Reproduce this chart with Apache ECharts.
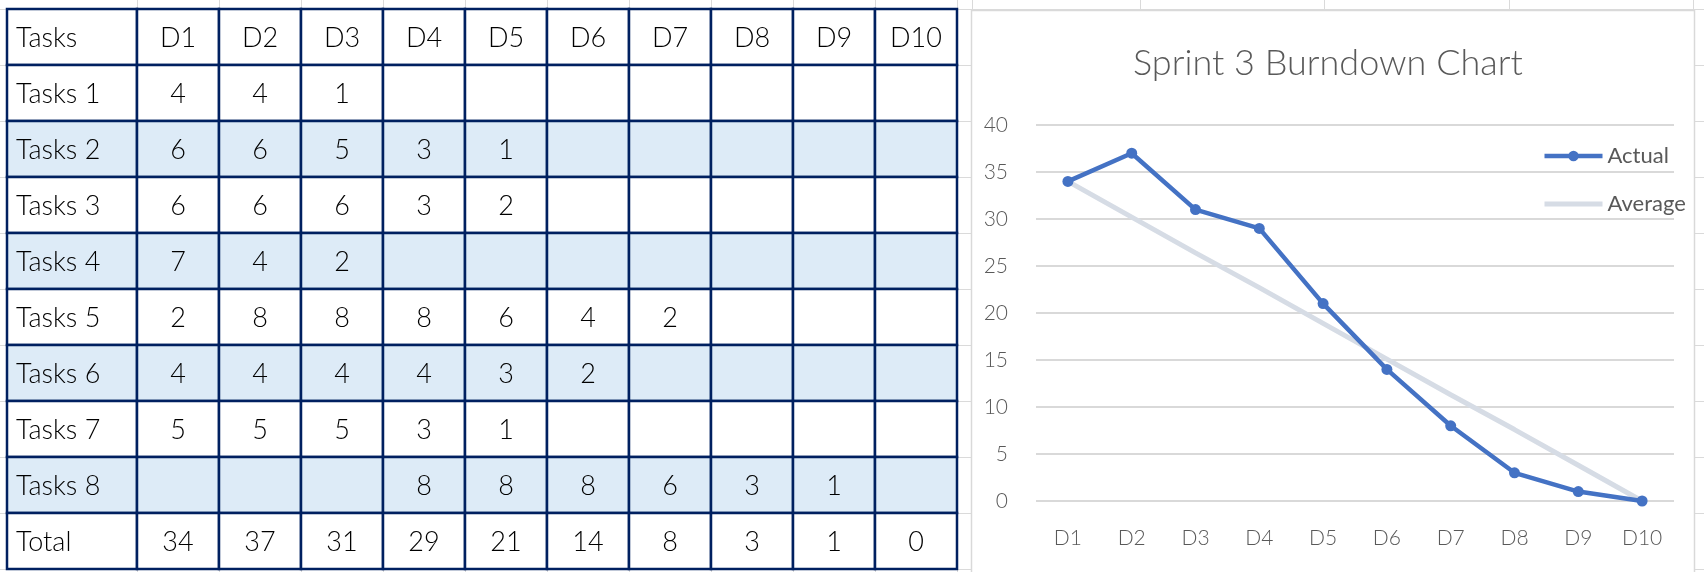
<!DOCTYPE html>
<html>
<head>
<meta charset="utf-8">
<script src="https://cdn.jsdelivr.net/npm/echarts@6/dist/echarts.min.js"></script>
<style>
html,body{margin:0;padding:0;background:#fff;}
#c{width:1704px;height:572px;}
</style>
</head>
<body>
<div id="c"></div>
<script>
// ---- data ----
const days = ['D1','D2','D3','D4','D5','D6','D7','D8','D9','D10'];
const headerLabel = 'Tasks';
const taskNames = ['Tasks 1','Tasks 2','Tasks 3','Tasks 4','Tasks 5','Tasks 6','Tasks 7','Tasks 8'];
const task1 = [4,4,1,null,null,null,null,null,null,null];
const task2 = [6,6,5,3,1,null,null,null,null,null];
const task3 = [6,6,6,3,2,null,null,null,null,null];
const task4 = [7,4,2,null,null,null,null,null,null,null];
const task5 = [2,8,8,8,6,4,2,null,null,null];
const task6 = [4,4,4,4,3,2,null,null,null,null];
const task7 = [5,5,5,3,1,null,null,null,null,null];
const task8 = [null,null,null,8,8,8,6,3,1,null];
const totalLabel = 'Total';
const totals = [34,37,31,29,21,14,8,3,1,0];
const average = [34,30.2,26.4,22.7,18.9,15.1,11.3,7.6,3.8,0];
const chartTitle = 'Sprint 3 Burndown Chart';
const seriesNames = ['Actual','Average'];
const yMin = 0, yMax = 40, yStep = 5;

// ---- build table cells ----
const taskRows = [task1,task2,task3,task4,task5,task6,task7,task8];
const rowLabels = [headerLabel].concat(taskNames, [totalLabel]);
const valueRows = [days].concat(taskRows, [totals]);
const banded = r => (r >= 1 && r <= 8 && r % 2 === 0);
const nameCells = rowLabels.map((t, r) => ({col:0, row:r, text:t, fill: banded(r) ? '#DDEBF7' : '#FFFFFF'}));
const valueCells = [];
valueRows.forEach((row, r) => row.forEach((v, c) => valueCells.push({col:c, row:r, text: v == null ? '' : String(v), fill: banded(r) ? '#DDEBF7' : '#FFFFFF'})));
const rowIdx = rowLabels.map((_, i) => i);

const FONT_HAND = '300 27px Lato, "Noto Sans", sans-serif';
const BORDER = '#002060';

function cellRenderer(cells, alignLeft) {
  return function (params, api) {
    const cell = cells[params.dataIndex];
    const p = api.coord([api.value(0), api.value(1)]);
    const s = api.size([1, 1]);
    const x0 = p[0] - s[0] / 2, y0 = p[1] - s[1] / 2;
    return {
      type: 'group',
      children: [
        {type:'rect', shape:{x:x0, y:y0, width:s[0], height:s[1]},
         style:{fill:cell.fill, stroke:BORDER, lineWidth:2.5}},
        {type:'text', z2: 10, style:{text:cell.text, x: alignLeft ? x0 + 9 : p[0], y: p[1] + 1,
          align: alignLeft ? 'left' : 'center', verticalAlign:'middle', font: FONT_HAND, fill:'#000'}}
      ]
    };
  };
}

// ---- spreadsheet background decoration ----
const sheetCols = [137,219,301,383,465,547,629,711,793,875,957,972,1140,1324,1509,1693];
const sheetRows = [9,65,121,177,233,289,345,401,457,513,569];
const graphics = [];
sheetCols.forEach(x => graphics.push({type:'line', z:-20, silent:true, shape:{x1:x+0.5,y1:0,x2:x+0.5,y2:572}, style:{stroke:'#DADADA', lineWidth:1}}));
sheetRows.forEach(y => graphics.push({type:'line', z:-20, silent:true, shape:{x1:0,y1:y+0.5,x2:1704,y2:y+0.5}, style:{stroke:'#DADADA', lineWidth:1}}));
graphics.push({type:'rect', z:-10, silent:true, shape:{x:971.5, y:10.5, width:723, height:600}, style:{fill:'#FFFFFF', stroke:'#D9D9D9', lineWidth:1.5}});

const chart = echarts.init(document.getElementById('c'));
chart.setOption({
  animation: false,
  backgroundColor: '#FFFFFF',
  graphic: graphics,
  title: {
    text: chartTitle, left: 1128, top: 40,
    textStyle: {fontFamily: 'Lato, "Noto Sans", sans-serif', fontWeight: 300, fontSize: 36, color: '#595959'}
  },
  legend: {
    data: [{name: seriesNames[0]}, {name: seriesNames[1], itemStyle: {color: 'rgba(0,0,0,0)', opacity: 0}}],
    orient: 'vertical', left: 1537, top: 140, align: 'left',
    itemWidth: 58, itemHeight: 13, itemGap: 26,
    lineStyle: {width: 'inherit'},
    textStyle: {fontFamily: 'Lato, "Noto Sans", sans-serif', fontSize: 22, color: '#595959', lineHeight: 22}
  },
  grid: [
    {left: 7, top: 9, width: 130, height: 560},
    {left: 137, top: 9, width: 820, height: 560},
    {left: 1036, top: 125, width: 638, height: 376}
  ],
  xAxis: [
    {type:'category', gridIndex:0, data:['name'], show:false},
    {type:'category', gridIndex:1, data:days, show:false},
    {type:'category', gridIndex:2, data:days, boundaryGap:true,
     axisLine:{show:false}, axisTick:{show:false},
     axisLabel:{margin:27, color:'#595959', fontSize:21, fontFamily:'Lato, "Noto Sans", sans-serif', fontWeight:300}}
  ],
  yAxis: [
    {type:'category', gridIndex:0, data:rowIdx, inverse:true, show:false},
    {type:'category', gridIndex:1, data:rowIdx, inverse:true, show:false},
    {type:'value', gridIndex:2, min:yMin, max:yMax, interval:yStep,
     axisLine:{show:false}, axisTick:{show:false},
     axisLabel:{margin:28, color:'#595959', fontSize:21, fontFamily:'Lato, "Noto Sans", sans-serif', fontWeight:300},
     splitLine:{lineStyle:{color:'#D9D9D9', width:2}}}
  ],
  series: [
    {type:'custom', xAxisIndex:0, yAxisIndex:0, data: nameCells.map(c => [c.col, c.row]), renderItem: cellRenderer(nameCells, true), silent:true},
    {type:'custom', xAxisIndex:1, yAxisIndex:1, data: valueCells.map(c => [c.col, c.row]), renderItem: cellRenderer(valueCells, false), silent:true},
    {name:'Average', type:'line', xAxisIndex:2, yAxisIndex:2, data: average, symbol:'none', z:2,
     lineStyle:{color:'#D6DCE5', width:5}, itemStyle:{color:'#D6DCE5'}},
    {name:'Actual', type:'line', xAxisIndex:2, yAxisIndex:2, data: totals, symbol:'circle', symbolSize:11, z:3,
     lineStyle:{color:'#4472C4', width:4.5}, itemStyle:{color:'#4472C4'}}
  ]
});
</script>
</body>
</html>
